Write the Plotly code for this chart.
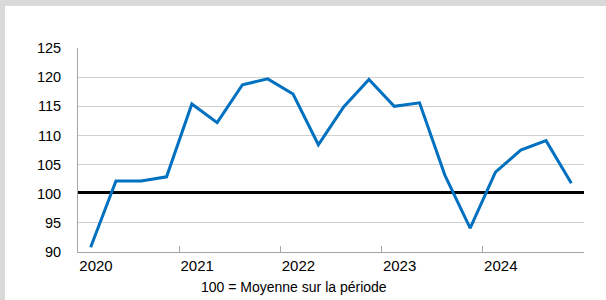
import plotly.graph_objects as go

years = ["2020", "2021", "2022", "2023", "2024"]
quarters_per_year = 4
values = [90.8, 102.2, 102.2, 102.9,
          115.4, 112.2, 118.7, 119.7,
          117.1, 108.4, 114.9, 119.6,
          115.0, 115.6, 103.2, 94.1,
          103.7, 107.5, 109.1, 101.8]
reference_level = 100.2
y_ticks = [90, 95, 100, 105, 110, 115, 120, 125]
note = "100 = Moyenne sur la période"

n = len(values)
x_pos = [i + 0.5 for i in range(n)]
year_starts = [i * quarters_per_year for i in range(len(years) + 1)]

FONT = "Liberation Sans"
W, H = 606, 300
ML, MR, MT, MB = 78, 22, 48, 48
pw, ph = W - ML - MR, H - MT - MB

fig = go.Figure()
fig.add_trace(go.Scatter(x=[0, n], y=[reference_level, reference_level], mode="lines",
                         line=dict(color="#000000", width=3), hoverinfo="skip", showlegend=False))
fig.add_trace(go.Scatter(x=x_pos, y=values, mode="lines",
                         line=dict(color="#0070C0", width=3), showlegend=False))

def px_x(p):
    return (p - ML) / pw

def px_y(p):
    return (H - MB - p) / ph

shapes = [
    dict(type="rect", xref="paper", yref="paper", x0=px_x(0), x1=px_x(W), y0=px_y(6), y1=px_y(0),
         fillcolor="#d9d9d9", line=dict(width=0), layer="above"),
    dict(type="rect", xref="paper", yref="paper", x0=px_x(0), x1=px_x(5), y0=px_y(H), y1=px_y(0),
         fillcolor="#d9d9d9", line=dict(width=0), layer="above"),
]

fig.update_layout(
    width=W, height=H,
    margin=dict(l=ML, r=MR, t=MT, b=MB, autoexpand=False),
    paper_bgcolor="white", plot_bgcolor="white",
    font=dict(family=FONT, size=15, color="#000000"),
    shapes=shapes,
    xaxis=dict(range=[0, n], tickvals=year_starts, ticktext=years + [""],
               ticks="inside", ticklen=6, tickcolor="#a6a6a6", tickwidth=1,
               showline=True, linecolor="#a6a6a6", linewidth=1,
               showgrid=False, zeroline=False, ticklabelshift=18, ticklabelstandoff=0,
               tickfont=dict(size=15), automargin=False),
    yaxis=dict(range=[90, 125], tickvals=y_ticks, showgrid=True, gridcolor="#d0d0d0", gridwidth=1,
               showline=True, linecolor="#a6a6a6", linewidth=1, zeroline=False,
               ticks="", ticklabelstandoff=13, tickfont=dict(size=14.5), automargin=False),
    annotations=[dict(text=note, xref="paper", yref="paper", x=px_x(294), y=px_y(287),
                      xanchor="center", yanchor="middle", showarrow=False,
                      font=dict(family=FONT, size=14))],
)

fig.write_html("out.html", config={"displayModeBar": False},
               post_script="document.body.style.margin='0';document.body.style.overflow='hidden';")
